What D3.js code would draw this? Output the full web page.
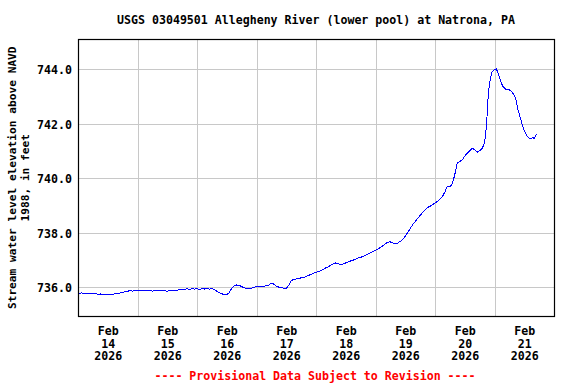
<!DOCTYPE html>
<html>
<head>
<meta charset="utf-8">
<script src="https://cdn.jsdelivr.net/npm/d3@7"></script>
<style>
  body { margin: 0; background: #fff; }
  svg text { font-family: "DejaVu Sans Mono", "Liberation Mono", monospace; font-weight: bold; font-size: 11.6px; }
</style>
</head>
<body>
<svg id="chart" width="576" height="384"></svg>
<script>
// gage height readings (time, ft above NAVD 1988)
const times = [
  "2026-02-14 00:00","2026-02-14 00:45","2026-02-14 01:30","2026-02-14 02:15","2026-02-14 03:00","2026-02-14 04:00",
  "2026-02-14 05:00","2026-02-14 06:00","2026-02-14 07:00","2026-02-14 08:00","2026-02-14 09:00","2026-02-14 10:00",
  "2026-02-14 11:00","2026-02-14 12:00","2026-02-14 13:00","2026-02-14 14:00","2026-02-14 15:00","2026-02-14 16:00",
  "2026-02-14 17:00","2026-02-14 18:00","2026-02-14 19:00","2026-02-14 20:00","2026-02-14 21:00","2026-02-14 22:00",
  "2026-02-14 23:00",
  "2026-02-15 00:00","2026-02-15 01:00","2026-02-15 02:00","2026-02-15 03:00","2026-02-15 04:00","2026-02-15 05:00",
  "2026-02-15 06:00","2026-02-15 07:00","2026-02-15 08:00","2026-02-15 09:00","2026-02-15 10:00","2026-02-15 11:00",
  "2026-02-15 12:00","2026-02-15 13:00","2026-02-15 14:00","2026-02-15 15:00","2026-02-15 16:00","2026-02-15 17:00",
  "2026-02-15 18:00","2026-02-15 19:00","2026-02-15 20:00","2026-02-15 21:00","2026-02-15 22:00","2026-02-15 23:00",
  "2026-02-16 00:00","2026-02-16 01:00","2026-02-16 02:00","2026-02-16 03:00","2026-02-16 04:00","2026-02-16 05:00",
  "2026-02-16 06:00","2026-02-16 07:00","2026-02-16 08:00","2026-02-16 09:00","2026-02-16 10:00","2026-02-16 11:00",
  "2026-02-16 12:00","2026-02-16 13:00","2026-02-16 14:00","2026-02-16 15:00","2026-02-16 16:00","2026-02-16 17:00",
  "2026-02-16 18:00","2026-02-16 19:00","2026-02-16 20:00","2026-02-16 21:00","2026-02-16 22:00","2026-02-16 23:00",
  "2026-02-17 00:00","2026-02-17 01:00","2026-02-17 02:00","2026-02-17 03:00","2026-02-17 04:00","2026-02-17 05:00",
  "2026-02-17 06:00","2026-02-17 07:00","2026-02-17 08:00","2026-02-17 09:00","2026-02-17 10:00","2026-02-17 11:00",
  "2026-02-17 12:00","2026-02-17 13:00","2026-02-17 14:00","2026-02-17 15:00","2026-02-17 16:00","2026-02-17 17:00",
  "2026-02-17 18:00","2026-02-17 19:00","2026-02-17 20:00","2026-02-17 21:00","2026-02-17 22:00","2026-02-17 23:00",
  "2026-02-18 00:00","2026-02-18 01:00","2026-02-18 02:00","2026-02-18 03:00","2026-02-18 04:00","2026-02-18 05:00",
  "2026-02-18 06:00","2026-02-18 07:00","2026-02-18 08:00","2026-02-18 09:00","2026-02-18 10:00","2026-02-18 11:00",
  "2026-02-18 12:00","2026-02-18 13:00","2026-02-18 14:00","2026-02-18 15:00","2026-02-18 16:00","2026-02-18 17:00",
  "2026-02-18 18:00","2026-02-18 19:00","2026-02-18 20:00","2026-02-18 21:00","2026-02-18 22:00","2026-02-18 23:00",
  "2026-02-19 00:00","2026-02-19 01:00","2026-02-19 02:00","2026-02-19 03:00","2026-02-19 04:00","2026-02-19 05:00",
  "2026-02-19 06:00","2026-02-19 07:00","2026-02-19 08:00","2026-02-19 09:00","2026-02-19 10:00","2026-02-19 11:00",
  "2026-02-19 12:00","2026-02-19 13:00","2026-02-19 14:00","2026-02-19 15:00","2026-02-19 16:00","2026-02-19 17:00",
  "2026-02-19 18:00","2026-02-19 19:00","2026-02-19 20:00","2026-02-19 21:00","2026-02-19 22:00","2026-02-19 23:00",
  "2026-02-20 00:00","2026-02-20 01:00","2026-02-20 02:00","2026-02-20 03:00","2026-02-20 04:00","2026-02-20 05:00",
  "2026-02-20 06:00","2026-02-20 07:00","2026-02-20 08:00","2026-02-20 09:00","2026-02-20 10:00","2026-02-20 11:00",
  "2026-02-20 12:00","2026-02-20 13:00","2026-02-20 14:00","2026-02-20 15:00","2026-02-20 16:00","2026-02-20 17:00",
  "2026-02-20 18:00","2026-02-20 19:00","2026-02-20 20:00","2026-02-20 20:30","2026-02-20 21:00","2026-02-20 21:30",
  "2026-02-20 22:00","2026-02-20 23:00",
  "2026-02-21 00:00","2026-02-21 00:45","2026-02-21 01:30","2026-02-21 02:30","2026-02-21 03:30","2026-02-21 04:30",
  "2026-02-21 05:30","2026-02-21 06:30","2026-02-21 07:30","2026-02-21 08:30","2026-02-21 09:30","2026-02-21 10:30",
  "2026-02-21 11:00","2026-02-21 12:00","2026-02-21 13:00","2026-02-21 14:00","2026-02-21 15:00","2026-02-21 15:30",
  "2026-02-21 16:00","2026-02-21 16:30","2026-02-21 17:00"
];
const levels = [
  735.80,735.78,735.80,735.77,735.79,735.76,
  735.78,735.76,735.77,735.75,735.76,735.73,
  735.74,735.72,735.75,735.74,735.78,735.77,
  735.80,735.82,735.84,735.86,735.88,735.86,
  735.89,
  735.88,735.90,735.87,735.89,735.88,735.90,
  735.86,735.89,735.88,735.90,735.87,735.88,
  735.86,735.88,735.87,735.90,735.89,735.92,
  735.94,735.93,735.95,735.93,735.95,735.94,
  735.95,735.93,735.95,735.94,735.96,735.94,
  735.95,735.92,735.86,735.80,735.76,735.75,
  735.74,735.80,735.97,736.06,736.09,736.08,
  736.03,735.99,735.96,735.94,735.97,736.00,
  736.03,736.02,736.05,736.04,736.06,736.09,
  736.15,736.12,736.05,736.01,735.99,735.97,
  735.96,736.08,736.24,736.30,736.31,736.33,
  736.35,736.36,736.40,736.44,736.48,736.52,
  736.55,736.58,736.62,736.66,736.72,736.76,
  736.82,736.87,736.90,736.87,736.84,736.86,
  736.90,736.94,736.97,737.00,737.04,737.08,
  737.10,737.14,737.18,737.22,737.27,737.31,
  737.36,737.41,737.47,737.53,737.60,737.66,
  737.67,737.63,737.61,737.63,737.69,737.76,
  737.88,738.02,738.16,738.30,738.42,738.53,
  738.64,738.75,738.84,738.93,738.98,739.04,
  739.10,739.16,739.25,739.34,739.50,739.72,
  739.70,739.80,740.15,740.58,740.62,740.68,
  740.82,740.93,741.02,741.10,741.06,740.96,
  741.02,741.10,741.30,741.70,742.30,743.10,
  743.50,743.92,
  744.00,744.02,743.86,743.55,743.36,743.28,
  743.28,743.22,743.12,742.95,742.52,742.20,
  742.02,741.75,741.58,741.47,741.46,741.52,
  741.45,741.55,741.62
];
const yTicks = [736, 738, 740, 742, 744];
const dayStarts = ["2026-02-15","2026-02-16","2026-02-17","2026-02-18","2026-02-19","2026-02-20","2026-02-21"];
const dayLabels = ["2026-02-14","2026-02-15","2026-02-16","2026-02-17","2026-02-18","2026-02-19","2026-02-20","2026-02-21"];

const titleText = "USGS 03049501 Allegheny River (lower pool) at Natrona, PA";
const yLabel1 = "Stream water level elevation above NAVD";
const yLabel2 = "1988, in feet";
const footText = "---- Provisional Data Subject to Revision ----";

const parseTime = d3.timeParse("%Y-%m-%d %H:%M");
const parseDay = d3.timeParse("%Y-%m-%d");
const data = times.map((t, i) => ({ t: parseTime(t), v: levels[i] }));

const plotL = 78, plotR = 554, plotT = 39.5, plotB = 316;
const svg = d3.select("#chart");

const x = d3.scaleTime()
  .domain([parseDay("2026-02-14"), parseDay("2026-02-22")])
  .range([plotL, plotR]);
const y = d3.scaleLinear()
  .domain([734.95, 745.1])
  .range([plotB, plotT]);

// grid
svg.append("g").selectAll("line")
  .data(yTicks).enter().append("line")
  .attr("x1", plotL).attr("x2", plotR)
  .attr("y1", d => Math.round(y(d)) + 0.5).attr("y2", d => Math.round(y(d)) + 0.5)
  .attr("stroke", "#c8c8c8").attr("stroke-width", 1)
  .attr("shape-rendering", "crispEdges");

svg.append("g").selectAll("line")
  .data(dayStarts.map(parseDay)).enter().append("line")
  .attr("x1", d => Math.round(x(d)) + 0.5).attr("x2", d => Math.round(x(d)) + 0.5)
  .attr("y1", plotT).attr("y2", plotB)
  .attr("stroke", "#c8c8c8").attr("stroke-width", 1)
  .attr("shape-rendering", "crispEdges");

// data line (aliased like the original plot)
const line = d3.line().x(d => x(d.t)).y(d => y(d.v));
svg.append("path")
  .datum(data)
  .attr("d", line)
  .attr("fill", "none")
  .attr("stroke", "#0000ff")
  .attr("stroke-width", 1)
  .attr("shape-rendering", "crispEdges");

// frame
svg.append("rect")
  .attr("x", plotL + 0.5).attr("y", Math.round(plotT) - 0.5)
  .attr("width", plotR - plotL).attr("height", plotB - Math.round(plotT) + 1)
  .attr("fill", "none").attr("stroke", "#000").attr("stroke-width", 1.2);

// y axis labels
const yAxis = svg.append("g")
  .attr("transform", "translate(" + plotL + ",0)")
  .call(d3.axisLeft(y).tickValues(yTicks).tickFormat(d3.format(".1f")).tickSize(0).tickPadding(6));
yAxis.select(".domain").remove();
yAxis.selectAll("text").attr("dy", "0.36em").attr("fill", "#000")
  .style("font-family", "'DejaVu Sans Mono', monospace").style("font-size", "11.6px").style("font-weight", "bold");

// x axis labels, three lines centred on noon of each day
const fmtMon = d3.timeFormat("%b"), fmtDay = d3.timeFormat("%d"), fmtYr = d3.timeFormat("%Y");
const xAxis = svg.append("g")
  .attr("transform", "translate(0," + plotB + ")")
  .call(d3.axisBottom(x).tickValues(dayLabels.map(d => d3.timeHour.offset(parseDay(d), 12))).tickSize(0).tickFormat(""));
xAxis.select(".domain").remove();
xAxis.selectAll(".tick").each(function (d) {
  const t = d3.select(this).select("text")
    .attr("y", 0).attr("dy", null).attr("fill", "#000")
    .style("font-family", "'DejaVu Sans Mono', monospace").style("font-size", "11.6px").style("font-weight", "bold");
  t.append("tspan").attr("x", 0).attr("y", 18.5).text(fmtMon(d));
  t.append("tspan").attr("x", 0).attr("y", 31.5).text(fmtDay(d));
  t.append("tspan").attr("x", 0).attr("y", 44).text(fmtYr(d));
});

// title
svg.append("text")
  .attr("x", (plotL + plotR) / 2).attr("y", 24)
  .attr("text-anchor", "middle")
  .text(titleText);

// y title
const yt = svg.append("text")
  .attr("transform", "translate(0," + ((plotT + plotB) / 2) + ") rotate(-90)")
  .attr("text-anchor", "middle")
  .style("font-size", "11.2px");
yt.append("tspan").attr("x", 0).attr("y", 16).text(yLabel1);
yt.append("tspan").attr("x", 0).attr("y", 29).text(yLabel2);

// footer
svg.append("text")
  .attr("x", (plotL + plotR) / 2 - 1).attr("y", 379.5)
  .attr("text-anchor", "middle")
  .attr("fill", "#ff0000")
  .text(footText);
</script>
</body>
</html>
